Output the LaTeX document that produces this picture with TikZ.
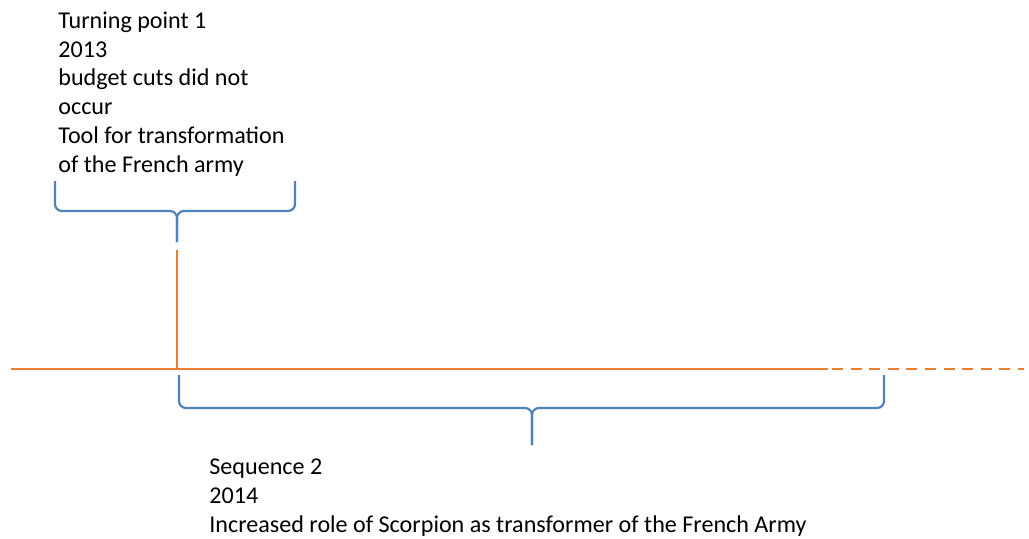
\documentclass[tikz,border=0pt]{standalone}
\usepackage{fontspec}
\setmainfont{Carlito}
\definecolor{lineorange}{HTML}{ED7D31}
\definecolor{braceblue}{HTML}{4F81BD}

\begin{document}
\begin{tikzpicture}[x=0.5pt, y=-0.5pt,
        timeline/.style={lineorange, line width=1.4pt},
        brace/.style={braceblue, line width=1.1pt, rounded corners=3.5pt},
        label/.style={align=left, inner sep=0pt, anchor=base west,
            font=\fontsize{12.05pt}{14.35pt}\selectfont}]
        \useasboundingbox (0, 0) rectangle (1029, 538);

        % points of the time line
        \coordinate (start) at (11, 369);
        \coordinate (dashStart) at (828, 369);
        \coordinate (end) at (1024, 369);
        \coordinate (tick) at (177, 250);

        \draw[timeline] (start) -- (dashStart);
        \draw[timeline, dash pattern=on 5.5pt off 3.8pt] ([xshift=2pt]dashStart) -- (end);
        \draw[timeline] (tick) -- (tick |- start);

        % brace over the turning point
        \coordinate (tpLeft) at (55, 181);
        \coordinate (tpRight) at (295, 181);
        \coordinate (tpMid) at (177, 211);
        \coordinate (tpTip) at (177, 242);
        \draw[brace] (tpLeft) |- (tpMid) -- (tpTip);
        \draw[brace] (tpRight) |- (tpMid) -- (tpTip);

        % brace under the sequence
        \coordinate (seqLeft) at (179, 375);
        \coordinate (seqRight) at (884, 375);
        \coordinate (seqMid) at (532, 408);
        \coordinate (seqTip) at (532, 445);
        \draw[brace] (seqLeft) |- (seqMid) -- (seqTip);
        \draw[brace] (seqRight) |- (seqMid) -- (seqTip);

        % the base anchor sits on the last line
        \node[label] (turning) at (58, 172) {Turning point 1\\2013\\budget cuts did not\\occur\\Tool for transformation\\of the French army};
        \node[label] (sequence) at (209, 532) {Sequence 2\\2014\\Increased role of Scorpion as transformer of the French Army};
    \end{tikzpicture}
\end{document}
